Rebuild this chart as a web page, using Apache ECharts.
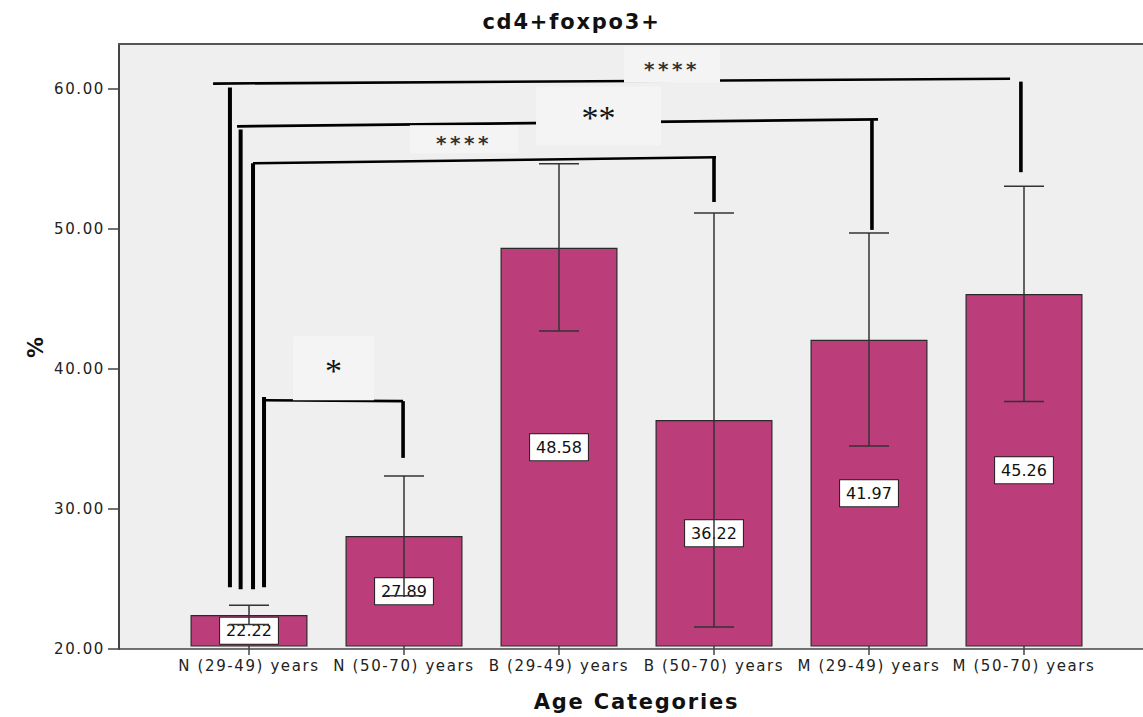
<!DOCTYPE html>
<html>
<head>
<meta charset="utf-8">
<script src="https://cdn.jsdelivr.net/npm/echarts@6/dist/echarts.min.js"></script>
<style>
html,body{margin:0;padding:0;background:#fff;}
#chart{width:1143px;height:717px;}
</style>
</head>
<body>
<div id="chart"></div>
<script>
// ---- data ----
const categories = ['N (29-49) years','N (50-70) years','B (29-49) years','B (50-70) years','M (29-49) years','M (50-70) years'];
const means    = [22.22, 27.89, 48.58, 36.22, 41.97, 45.26];
const errLow   = [21.55, 23.60, 42.60, 21.37, 34.36, 37.55];
const errHigh  = [22.92, 32.20, 54.60, 51.07, 49.64, 53.00];
const yTicks   = [20, 30, 40, 50, 60];

// significance brackets (x in category units, y in %)
const sigLabels          = ['****', '**', '****', '*'];
const bracketLeftX       = [-0.123, -0.054, 0.026, 0.097];
const bracketLeftBottom  = [24.21, 24.07, 24.07, 24.21];
const bracketLeftTop     = [60.07, 57.07, 54.64, 37.86];
const bracketHStartX     = [-0.232, -0.077, 0.026, 0.097];
const bracketHStartY     = [60.36, 57.29, 54.64, 37.64];
const bracketHEndX       = [4.91, 4.058, 3.013, 0.994];
const bracketHEndY       = [60.71, 57.79, 55.07, 37.57];
const bracketRightX      = [4.98, 4.019, 3.0, 0.994];
const bracketRightTop    = [60.5, 57.79, 55.07, 37.57];
const bracketRightBottom = [54.0, 49.86, 51.86, 33.5];
const sigLabelX          = [2.729, 2.255, 1.387, 0.545];
const sigLabelY          = [61.71, 58.04, 56.36, 39.93];

const chart = echarts.init(document.getElementById('chart'), null, {renderer: 'svg'});

const axisColor = '#444';
const boxSizes = [[96, 36], [125, 59], [108, 28], [81, 64]];

const option = {
  animation: false,
  backgroundColor: '#ffffff',
  title: {
    text: 'cd4+foxpo3+',
    left: 'center',
    top: 6,
    textStyle: {fontFamily: 'DejaVu Sans', fontWeight: 'bold', fontSize: 21, color: '#111'}
  },
  grid: [
    {left: 119, right: 0, top: 44, bottom: 68, show: true, backgroundColor: '#efefef', borderWidth: 0},
    {left: 171.5, right: 41.5, top: 44, bottom: 68}
  ],
  xAxis: [
    {gridIndex: 0, type: 'value', position: 'top', min: 0, max: 1,
     axisLine: {show: true, onZero: false, lineStyle: {color: '#555', width: 2}},
     axisTick: {show: false}, axisLabel: {show: false}, splitLine: {show: false}},
    {gridIndex: 0, type: 'value', position: 'bottom', min: 0, max: 1,
     axisLine: {show: true, onZero: false, lineStyle: {color: axisColor, width: 1.5}},
     axisTick: {show: false}, axisLabel: {show: false}, splitLine: {show: false}},
    {gridIndex: 1, type: 'category', data: categories, position: 'bottom',
     axisLine: {show: false},
     axisTick: {show: true, alignWithLabel: true, length: 9, lineStyle: {color: axisColor, width: 1.5}},
     axisLabel: {interval: 0, margin: 12, fontFamily: 'DejaVu Sans', fontSize: 15, color: '#222'},
     name: 'Age Categories', nameLocation: 'middle', nameGap: 45,
     nameTextStyle: {fontFamily: 'DejaVu Sans', fontWeight: 'bold', fontSize: 21, color: '#111'}},
    {gridIndex: 1, type: 'value', min: -0.5, max: 5.5, show: false}
  ],
  yAxis: [
    {gridIndex: 0, type: 'value', min: 20, max: 63.2, interval: 10,
     axisLine: {show: true, onZero: false, lineStyle: {color: axisColor, width: 2}},
     axisTick: {show: true, length: 11, customValues: yTicks, lineStyle: {color: axisColor, width: 1.5}},
     axisLabel: {customValues: yTicks, formatter: v => Number(v).toFixed(2), margin: 14,
                 fontFamily: 'DejaVu Sans', fontSize: 15, color: '#222'},
     splitLine: {show: false},
     name: '%', nameLocation: 'middle', nameGap: 73, nameRotate: 90,
     nameTextStyle: {fontFamily: 'DejaVu Sans', fontWeight: 'bold', fontSize: 21, color: '#111'}},
    {gridIndex: 1, type: 'value', min: 20, max: 63.2, show: false}
  ],
  series: [
    {
      type: 'bar', xAxisIndex: 2, yAxisIndex: 1, data: means, barWidth: 117, z: 2,
      itemStyle: {color: '#bb3e7b', borderColor: '#2a2a2a', borderWidth: 1.2},
      label: {show: true, position: 'inside', formatter: p => Number(p.value).toFixed(2),
              backgroundColor: '#ffffff', borderColor: '#222', borderWidth: 1,
              padding: [4, 6, 3, 6], lineHeight: 19,
              fontFamily: 'DejaVu Sans', fontSize: 16, color: '#111'}
    },
    {
      type: 'custom', xAxisIndex: 2, yAxisIndex: 1, z: 5,
      data: categories.map((c, i) => [i, errLow[i], errHigh[i]]),
      encode: {x: 0, y: [1, 2]},
      renderItem: function (params, api) {
        const x = api.value(0);
        const lo = api.coord([x, api.value(1)]);
        const hi = api.coord([x, api.value(2)]);
        const hw = 20;
        const st = {stroke: '#333', lineWidth: 1.5};
        return {type: 'group', children: [
          {type: 'line', shape: {x1: lo[0], y1: lo[1], x2: hi[0], y2: hi[1]}, style: st},
          {type: 'line', shape: {x1: lo[0] - hw, y1: lo[1], x2: lo[0] + hw, y2: lo[1]}, style: st},
          {type: 'line', shape: {x1: hi[0] - hw, y1: hi[1], x2: hi[0] + hw, y2: hi[1]}, style: st}
        ]};
      }
    },
    {
      type: 'custom', xAxisIndex: 3, yAxisIndex: 1, z: 6,
      data: sigLabels.map((s, i) => [i]),
      renderItem: function (params, api) {
        const i = params.dataIndex;
        const lb = api.coord([bracketLeftX[i], bracketLeftBottom[i]]);
        const lt = api.coord([bracketLeftX[i], bracketLeftTop[i]]);
        const hs = api.coord([bracketHStartX[i], bracketHStartY[i]]);
        const he = api.coord([bracketHEndX[i], bracketHEndY[i]]);
        const rt = api.coord([bracketRightX[i], bracketRightTop[i]]);
        const rb = api.coord([bracketRightX[i], bracketRightBottom[i]]);
        return {type: 'group', children: [
          {type: 'line', shape: {x1: lb[0], y1: lb[1], x2: lt[0], y2: lt[1]}, style: {stroke: '#000', lineWidth: 4}},
          {type: 'line', shape: {x1: hs[0], y1: hs[1], x2: he[0], y2: he[1]}, style: {stroke: '#000', lineWidth: 2.6}},
          {type: 'line', shape: {x1: rt[0], y1: rt[1], x2: rb[0], y2: rb[1]}, style: {stroke: '#000', lineWidth: 3.6}}
        ]};
      }
    },
    {
      type: 'custom', xAxisIndex: 3, yAxisIndex: 1, z: 7,
      data: sigLabels.map((s, i) => [i]),
      renderItem: function (params, api) {
        const i = params.dataIndex;
        const c = api.coord([sigLabelX[i], sigLabelY[i]]);
        const w = boxSizes[i][0], h = boxSizes[i][1];
        const heavy = sigLabels[i].length > 2;
        return {type: 'group', children: [
          {type: 'rect', shape: {x: c[0] - w / 2, y: c[1] - h / 2, width: w, height: h},
           style: {fill: '#f4f4f4'}},
          {type: 'text', x: c[0], y: heavy ? c[1] + 4 : c[1] + 2,
           style: heavy ? {text: sigLabels[i], fill: '#333', fontFamily: 'DejaVu Sans', fontWeight: 'bold',
                           fontSize: 20, align: 'center', verticalAlign: 'middle'}
                        : {text: sigLabels[i], fill: '#111', fontFamily: 'Liberation Serif',
                           fontSize: 34, align: 'center', verticalAlign: 'middle'}}
        ]};
      }
    }
  ]
};

chart.setOption(option);

function applySpacing() {
  document.querySelectorAll('#chart text').forEach(t => {
    const fs = parseFloat(getComputedStyle(t).fontSize);
    let ls = 0;
    if (fs === 15) ls = 1.6;
    else if (fs === 21) ls = 1.8;
    else if (fs === 20) ls = 3.5;
    if (ls) t.style.letterSpacing = ls + 'px';
  });
}
applySpacing();
chart.on('finished', applySpacing);
setTimeout(applySpacing, 50);
</script>
</body>
</html>
